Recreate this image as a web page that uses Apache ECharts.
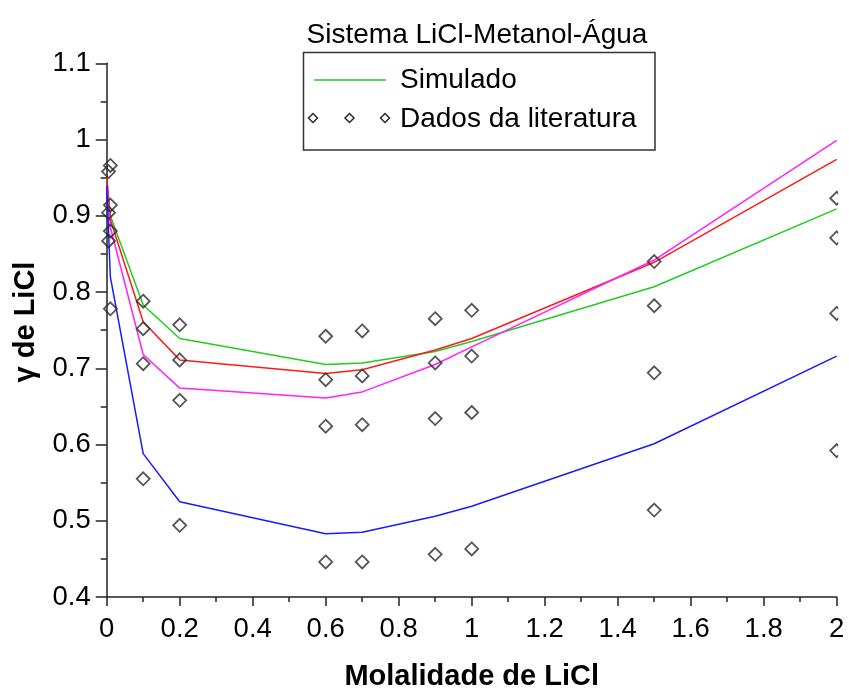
<!DOCTYPE html>
<html>
<head>
<meta charset="utf-8">
<script src="https://cdn.jsdelivr.net/npm/echarts@6/dist/echarts.min.js"></script>
<style>
  html, body { margin: 0; padding: 0; background: #fff; }
  #chart { width: 849px; height: 696px; }
</style>
</head>
<body>
<div id="chart"></div>
<script>
// Molalidade de LiCl (mol/kg) onde os modelos foram avaliados
const molalidade = [0, 0.01, 0.1, 0.2, 0.6, 0.7, 0.9, 1, 1.5, 2];
// Coeficiente de atividade simulado, uma curva por composição do solvente
const simVerde    = [0.948, 0.900, 0.783, 0.739, 0.705, 0.707, 0.722, 0.735, 0.807, 0.909];
const simVermelho = [0.952, 0.895, 0.761, 0.711, 0.693, 0.698, 0.724, 0.739, 0.839, 0.974];
const simMagenta  = [0.940, 0.885, 0.718, 0.674, 0.661, 0.669, 0.705, 0.728, 0.842, 0.999];
const simAzul     = [0.940, 0.820, 0.588, 0.525, 0.483, 0.485, 0.506, 0.519, 0.601, 0.716];

// Dados da literatura
const expX = [0.01, 0.1, 0.2, 0.6, 0.7, 0.9, 1, 1.5, 2];
const expA = [0.966, 0.788, 0.757, 0.742, 0.749, 0.765, 0.776, 0.840, 0.923];
const expB = [0.914, 0.752, 0.711, 0.685, 0.690, 0.707, 0.716, 0.782, 0.871];
const expC = [0.880, 0.706, 0.658, 0.624, 0.626, 0.634, 0.642, 0.694, 0.772];
const expD = [0.778, 0.555, 0.494, 0.446, 0.446, 0.456, 0.463, 0.514, 0.592];
const expDiluidoX = [0.005, 0.005, 0.005];
const expDiluidoY = [0.958, 0.904, 0.867];

const FONT = '"Liberation Sans", Arial, sans-serif';

const pares = (xs, ys) => xs.map((x, i) => [x, ys[i]]);
const pontos = []
  .concat(pares(expX, expA), pares(expX, expB), pares(expX, expC), pares(expX, expD))
  .concat(pares(expDiluidoX, expDiluidoY));

function curva(nome, cor, ys) {
  return {
    name: nome,
    type: 'line',
    data: pares(molalidade, ys),
    symbol: 'none',
    smooth: false,
    lineStyle: { color: cor, width: 1.5 },
    z: 2,
    animation: false
  };
}

const chart = echarts.init(document.getElementById('chart'), null, { renderer: 'canvas' });

// Caixa da legenda e sua posição
const LX = 303.5, LY = 52.5, LW = 351.5, LH = 97.5;

chart.setOption({
  animation: false,
  backgroundColor: '#fff',
  title: {
    text: 'Sistema LiCl-Metanol-Água',
    left: 472,
    top: 16,
    textAlign: 'center',
    textStyle: { fontFamily: FONT, fontSize: 28, fontWeight: 'normal', color: '#000' }
  },
  grid: { left: 106.7, right: 12.3, top: 63.3, bottom: 92, containLabel: false },
  xAxis: {
    type: 'value',
    min: 0, max: 2, interval: 0.2,
    name: 'Molalidade de LiCl',
    nameLocation: 'middle',
    nameGap: 65,
    nameTextStyle: { fontFamily: FONT, fontSize: 29, fontWeight: 'bold', color: '#000' },
    axisLine: { show: true, lineStyle: { color: '#222', width: 1.5 } },
    axisTick: { show: true, inside: false, length: 9, lineStyle: { color: '#222', width: 1.5 } },
    minorTick: { show: true, splitNumber: 2, length: 5, lineStyle: { color: '#222', width: 1.5 } },
    splitLine: { show: false },
    axisLabel: { fontFamily: FONT, fontSize: 27.5, color: '#000', margin: 18 }
  },
  yAxis: {
    type: 'value',
    min: 0.4, max: 1.1, interval: 0.1,
    axisLine: { show: true, lineStyle: { color: '#222', width: 1.5 } },
    axisTick: { show: true, inside: false, length: 11, lineStyle: { color: '#222', width: 1.5 } },
    minorTick: { show: true, splitNumber: 2, length: 6, lineStyle: { color: '#222', width: 1.5 } },
    splitLine: { show: false },
    axisLabel: {
      fontFamily: FONT, fontSize: 27.5, color: '#000', margin: 16,
      formatter: v => String(Math.round(v * 10) / 10)
    }
  },
  series: [
    curva('Simulado', '#22cc22', simVerde),
    curva('Simulado (2)', '#ff1a1a', simVermelho),
    curva('Simulado (3)', '#ff22ff', simMagenta),
    curva('Simulado (4)', '#1a1aff', simAzul),
    {
      name: 'Dados da literatura',
      type: 'scatter',
      data: pontos,
      symbol: 'diamond',
      symbolSize: 13,
      itemStyle: { color: 'rgba(255,255,255,0)', borderColor: '#2a2a2a', borderWidth: 1.8 },
      z: 3,
      animation: false
    }
  ],
  graphic: [
    // corta os marcadores que passam da borda direita do eixo
    { type: 'rect', left: 838.2, top: 0, shape: { width: 20, height: 600 },
      style: { fill: '#fff' }, z: 100 },
    // título do eixo y
    { type: 'text', x: 26, y: 322, rotation: Math.PI / 2, z: 100,
      style: { text: 'γ de LiCl', fontFamily: FONT, fontSize: 29, fontWeight: 'bold',
               fill: '#000', align: 'center', verticalAlign: 'middle' } },
    // legenda
    { type: 'rect', shape: { x: LX, y: LY, width: LW, height: LH }, z: 100,
      style: { fill: '#fff', stroke: '#333', lineWidth: 1.5 } },
    { type: 'line', shape: { x1: 314, y1: 80, x2: 386, y2: 80 }, z: 101,
      style: { stroke: '#22cc22', lineWidth: 1.5 } },
    { type: 'text', x: 400, y: 80, z: 101,
      style: { text: 'Simulado', fontFamily: FONT, fontSize: 28, fill: '#000',
               align: 'left', verticalAlign: 'middle' } },
    ...[313, 349.5, 385].map(cx => ({
      type: 'polygon', z: 101,
      shape: { points: [[cx, 113.5], [cx + 4.5, 118], [cx, 122.5], [cx - 4.5, 118]] },
      style: { fill: 'none', stroke: '#2a2a2a', lineWidth: 1.5 }
    })),
    { type: 'text', x: 400, y: 119, z: 101,
      style: { text: 'Dados da literatura', fontFamily: FONT, fontSize: 28, fill: '#000',
               align: 'left', verticalAlign: 'middle' } }
  ]
});
</script>
</body>
</html>
